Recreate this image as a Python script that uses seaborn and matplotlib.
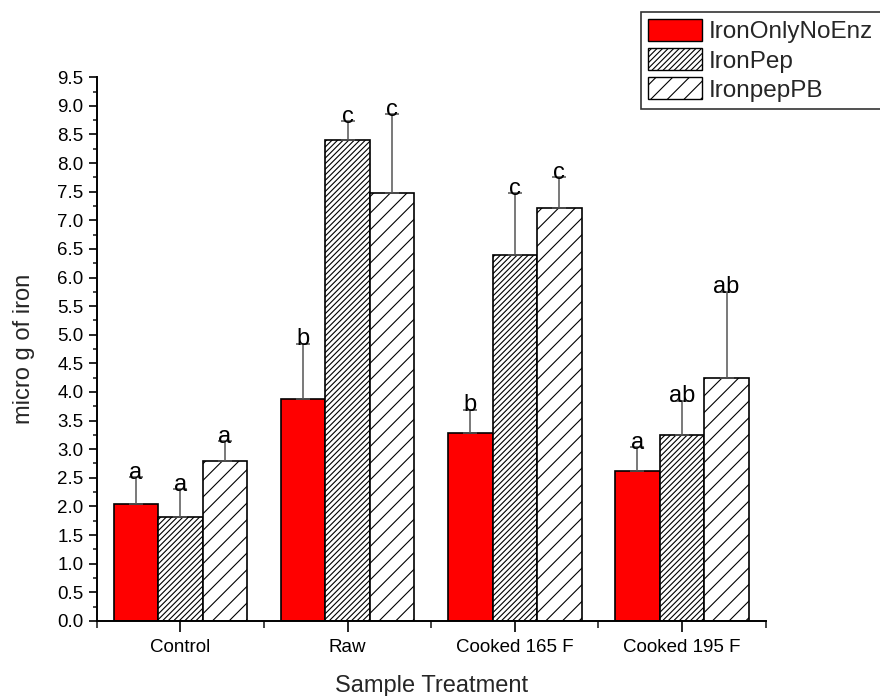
import numpy as np
import pandas as pd
import matplotlib
matplotlib.use("Agg")
import matplotlib.pyplot as plt
import seaborn as sns
from matplotlib.patches import Patch
from matplotlib.ticker import MultipleLocator, FixedLocator

# data
treatments = ["Control", "Raw", "Cooked 165 F", "Cooked 195 F"]
groups = ["IronOnlyNoEnz", "IronPep", "IronpepPB"]

iron_only = [2.05, 3.87, 3.29, 2.61]
iron_pep = [1.81, 8.41, 6.39, 3.24]
iron_pep_pb = [2.79, 7.47, 7.21, 4.25]

err_only = [0.46, 0.97, 0.40, 0.42]
err_pep = [0.49, 0.32, 1.08, 0.61]
err_pep_pb = [0.35, 1.38, 0.54, 1.50]

letters_only = ["a", "b", "b", "a"]
letters_pep = ["a", "c", "c", "ab"]
letters_pep_pb = ["a", "c", "c", "ab"]

colors = ["#ff0000", "white", "white"]
hatches = ["", "//////", "//"]

sns.set_style("ticks")
plt.rcParams["font.family"] = ["Liberation Sans", "DejaVu Sans"]
plt.rcParams["hatch.linewidth"] = 0.8
plt.rcParams["hatch.color"] = "black"

df = pd.DataFrame({
    "treatment": treatments * 3,
    "group": [g for g in groups for _ in treatments],
    "value": iron_only + iron_pep + iron_pep_pb,
    "err": err_only + err_pep + err_pep_pb,
    "letter": letters_only + letters_pep + letters_pep_pb,
})

fig = plt.figure(figsize=(8.8, 6.96), dpi=100)
ax = fig.add_axes([0.110, 0.108, 0.760, 0.781])

sns.barplot(data=df, x="treatment", y="value", hue="group", order=treatments,
            hue_order=groups, palette=colors, errorbar=None, width=0.8,
            edgecolor="black", linewidth=1.2, saturation=1, legend=False, ax=ax)

# hatch + error bars + letters per hue
for i, g in enumerate(groups):
    sub = df[df["group"] == g].set_index("treatment").loc[treatments]
    bars = ax.containers[i]
    for bar, (_, row) in zip(bars, sub.iterrows()):
        bar.set_hatch(hatches[i])
        cx = bar.get_x() + bar.get_width() / 2
        top = bar.get_height()
        ax.errorbar(cx, top, yerr=[[0], [row["err"]]], fmt="none",
                    ecolor="#555555", elinewidth=1.1, capsize=5, capthick=1.1,
                    zorder=1)
        ax.annotate(row["letter"], (cx, top + row["err"]), xytext=(0, -1),
                    textcoords="offset points", ha="center", va="baseline",
                    fontsize=17, color="black")

ax.set_xlim(-0.5, 3.5)
ax.set_ylim(0, 9.5)
ax.yaxis.set_major_locator(MultipleLocator(0.5))
ax.yaxis.set_minor_locator(MultipleLocator(0.25))
ax.yaxis.set_major_formatter(matplotlib.ticker.FormatStrFormatter("%.1f"))
ax.xaxis.set_minor_locator(FixedLocator([-0.5, 0.5, 1.5, 2.5, 3.5]))

ax.tick_params(axis="both", which="major", direction="out", width=1.2,
               labelsize=13.5, color="black", labelcolor="black")
ax.tick_params(axis="y", which="major", length=6)
ax.tick_params(axis="y", which="minor", length=3, width=1.2)
ax.tick_params(axis="x", which="major", length=8, pad=5)
ax.tick_params(axis="x", which="minor", length=5, width=1.2)

for s in ["top", "right"]:
    ax.spines[s].set_visible(False)
for s in ["left", "bottom"]:
    ax.spines[s].set_linewidth(1.4)
    ax.spines[s].set_color("black")

ax.set_xlabel("Sample Treatment", fontsize=17, labelpad=14)
ax.set_ylabel("micro g of iron", fontsize=17, labelpad=16)

handles = [Patch(facecolor=c, edgecolor="black", hatch=h, linewidth=1.0)
           for c, h in zip(colors, hatches)]
leg = fig.legend(handles, groups, loc="upper left",
                 bbox_to_anchor=(641 / 880, 1 - 12 / 696), fontsize=17.5,
                 frameon=True, fancybox=False, edgecolor="black",
                 handlelength=2.2, handleheight=1.0, handletextpad=0.3,
                 labelspacing=0.2, borderpad=0.3, borderaxespad=0)
leg.get_frame().set_linewidth(1.2)

fig.savefig("out.png", dpi=100)
